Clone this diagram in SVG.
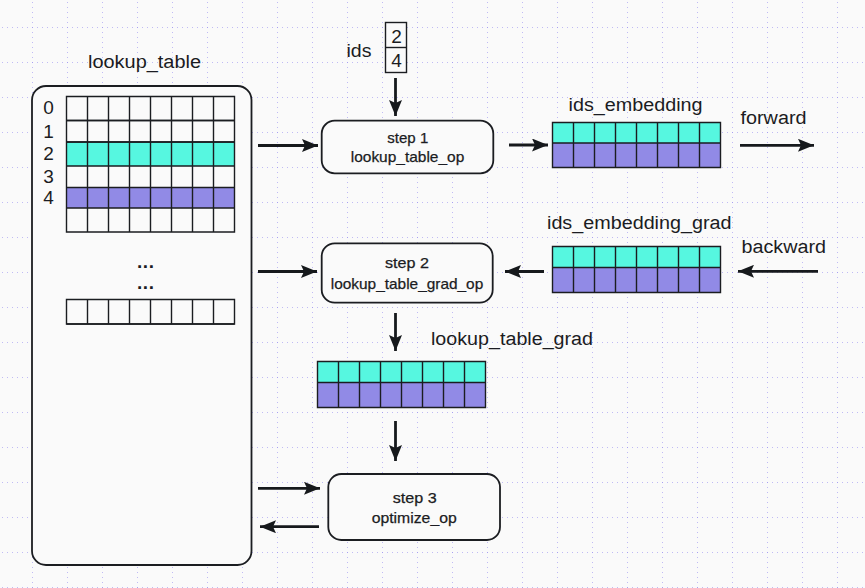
<svg xmlns="http://www.w3.org/2000/svg" width="865" height="588" viewBox="0 0 865 588">
<style>
text{font-family:"Liberation Sans",Arial,sans-serif;fill:#1b1c22}
.lbl{font-size:18px}
.dig{font-size:19px;text-anchor:middle}
.op{font-size:15px;text-anchor:middle;stroke:#1b1c22;stroke-width:0.25}
.box{fill:#fafafa;stroke:#1b1d21;stroke-width:1.8}
.cell{fill:none;stroke:#1b1d21;stroke-width:1.4}
.teal{fill:#56f7e0}
.purp{fill:#918ae6}
.conn{stroke:#16191c;stroke-width:2.8;fill:none}
.gridln{stroke:#8f86ee;stroke-width:1;stroke-dasharray:1 4;opacity:0.55}
</style>
<defs>
<pattern id="bggrid" patternUnits="userSpaceOnUse" x="32" y="27" width="35" height="35">
<line class="gridln" x1="0.5" y1="0" x2="0.5" y2="35"/>
<line class="gridln" x1="0" y1="0.5" x2="35" y2="0.5"/>
</pattern>
<marker id="ah" markerUnits="userSpaceOnUse" markerWidth="17" markerHeight="13" refX="16" refY="6.5" orient="auto">
<path d="M0,0 L16,6.5 L0,13 L3,6.5 Z" fill="#16191c"/>
</marker>
</defs>
<rect width="865" height="588" fill="#fafafa"/>
<rect width="865" height="588" fill="url(#bggrid)"/>

<g id="lookup_table">
<text class="lbl" x="88" y="68" textLength="113" lengthAdjust="spacingAndGlyphs">lookup_table</text>
<rect class="box" x="32" y="86" width="219.5" height="479" rx="14" stroke-width="2"/>
<rect class="teal" x="66.5" y="142" width="168" height="24"/>
<rect class="purp" x="66.5" y="187.5" width="168" height="20.5"/>
<path class="cell" d="M66.5,96.5H234.5V232H66.5Z M66.5,120.5H234.5 M66.5,142H234.5 M66.5,166H234.5 M66.5,187.5H234.5 M66.5,208H234.5 M87.5,96.5V232 M108.5,96.5V232 M129.5,96.5V232 M150.5,96.5V232 M171.5,96.5V232 M192.5,96.5V232 M213.5,96.5V232"/>
<path class="cell" d="M66.5,120.5H234.5 M66.5,142H234.5" stroke-width="2.2"/>
<text class="dig" x="48.5" y="113.5">0</text>
<text class="dig" x="48.5" y="137.5">1</text>
<text class="dig" x="48.5" y="159.5">2</text>
<text class="dig" x="48.5" y="182.5">3</text>
<text class="dig" x="48.5" y="203.5">4</text>
<text class="dig" x="145.5" y="268" font-weight="bold" textLength="17" lengthAdjust="spacing">...</text>
<text class="dig" x="145.5" y="289" font-weight="bold" textLength="17" lengthAdjust="spacing">...</text>
<path class="cell" d="M66.5,299.5H234.5V324H66.5Z M87.5,299.5V324 M108.5,299.5V324 M129.5,299.5V324 M150.5,299.5V324 M171.5,299.5V324 M192.5,299.5V324 M213.5,299.5V324"/>
<path class="cell" d="M66.5,324H234.5" stroke-width="2.4"/>
</g>

<g id="ids">
<text class="lbl" x="346.5" y="57" textLength="25" lengthAdjust="spacingAndGlyphs">ids</text>
<rect x="385.5" y="22.5" width="21" height="50" fill="#fafafa" stroke="#1b1d21" stroke-width="1.4"/>
<line x1="385.5" y1="47.5" x2="406.5" y2="47.5" stroke="#1b1d21" stroke-width="1.4"/>
<text class="dig" x="396.5" y="42.5">2</text>
<text class="dig" x="396.5" y="66.5">4</text>
</g>

<g id="step1">
<rect class="box" x="321.7" y="120.7" width="171.6" height="52.6" rx="13"/>
<text class="op" x="407.8" y="143" textLength="41" lengthAdjust="spacingAndGlyphs">step 1</text>
<text class="op" x="407.5" y="162" textLength="113.5" lengthAdjust="spacingAndGlyphs">lookup_table_op</text>
</g>

<g id="ids_embedding">
<text class="lbl" x="568.5" y="110.5" textLength="134" lengthAdjust="spacingAndGlyphs">ids_embedding</text>
<rect class="teal" x="552.5" y="122.5" width="168" height="20.5"/>
<rect class="purp" x="552.5" y="143" width="168" height="24.5"/>
<path class="cell" d="M552.5,122.5H720.5V167.5H552.5Z M552.5,143H720.5 M573.5,122.5V167.5 M594.5,122.5V167.5 M615.5,122.5V167.5 M636.5,122.5V167.5 M657.5,122.5V167.5 M678.5,122.5V167.5 M699.5,122.5V167.5"/>
</g>

<g id="forward">
<text class="lbl" x="740.5" y="124" textLength="66" lengthAdjust="spacingAndGlyphs">forward</text>
</g>

<g id="ids_embedding_grad">
<text class="lbl" x="547" y="229" textLength="184.5" lengthAdjust="spacingAndGlyphs">ids_embedding_grad</text>
<rect class="teal" x="552.5" y="246.5" width="168" height="21"/>
<rect class="purp" x="552.5" y="267.5" width="168" height="25"/>
<path class="cell" d="M552.5,246.5H720.5V292.5H552.5Z M552.5,267.5H720.5 M573.5,246.5V292.5 M594.5,246.5V292.5 M615.5,246.5V292.5 M636.5,246.5V292.5 M657.5,246.5V292.5 M678.5,246.5V292.5 M699.5,246.5V292.5"/>
</g>

<g id="backward">
<text class="lbl" x="741.5" y="252.5" textLength="84.5" lengthAdjust="spacingAndGlyphs">backward</text>
</g>

<g id="step2">
<rect class="box" x="321.7" y="243.3" width="171" height="59.4" rx="13"/>
<text class="op" x="407" y="268" textLength="44" lengthAdjust="spacingAndGlyphs">step 2</text>
<text class="op" x="407" y="288.5" textLength="152.5" lengthAdjust="spacingAndGlyphs">lookup_table_grad_op</text>
</g>

<g id="lookup_table_grad">
<text class="lbl" x="431" y="345" textLength="162" lengthAdjust="spacingAndGlyphs">lookup_table_grad</text>
<rect class="teal" x="317.5" y="361.5" width="168" height="21"/>
<rect class="purp" x="317.5" y="382.5" width="168" height="25"/>
<path class="cell" d="M317.5,361.5H485.5V407.5H317.5Z M317.5,382.5H485.5 M338.5,361.5V407.5 M359.5,361.5V407.5 M380.5,361.5V407.5 M401.5,361.5V407.5 M422.5,361.5V407.5 M443.5,361.5V407.5 M464.5,361.5V407.5"/>
</g>

<g id="step3">
<rect class="box" x="328.3" y="474" width="171.7" height="66" rx="13"/>
<text class="op" x="414.7" y="503" textLength="44" lengthAdjust="spacingAndGlyphs">step 3</text>
<text class="op" x="414.2" y="522.5" textLength="85" lengthAdjust="spacingAndGlyphs">optimize_op</text>
</g>

<g id="connectors">
<line class="conn" x1="258" y1="145.5" x2="318" y2="145.5" marker-end="url(#ah)"/>
<line class="conn" x1="395.5" y1="78" x2="395.5" y2="116" marker-end="url(#ah)"/>
<line class="conn" x1="509" y1="145" x2="548" y2="145" marker-end="url(#ah)"/>
<line class="conn" x1="740" y1="145.3" x2="814" y2="145.3" marker-end="url(#ah)"/>
<line class="conn" x1="818" y1="271.3" x2="738" y2="271.3" marker-end="url(#ah)"/>
<line class="conn" x1="544" y1="271.5" x2="505" y2="271.5" marker-end="url(#ah)"/>
<line class="conn" x1="258" y1="271.5" x2="317" y2="271.5" marker-end="url(#ah)"/>
<line class="conn" x1="395.5" y1="313" x2="395.5" y2="351" marker-end="url(#ah)"/>
<line class="conn" x1="395.5" y1="421" x2="395.5" y2="461" marker-end="url(#ah)"/>
<line class="conn" x1="258" y1="488.3" x2="320" y2="488.3" marker-end="url(#ah)"/>
<line class="conn" x1="319" y1="526.7" x2="260" y2="526.7" marker-end="url(#ah)"/>
</g>
</svg>
